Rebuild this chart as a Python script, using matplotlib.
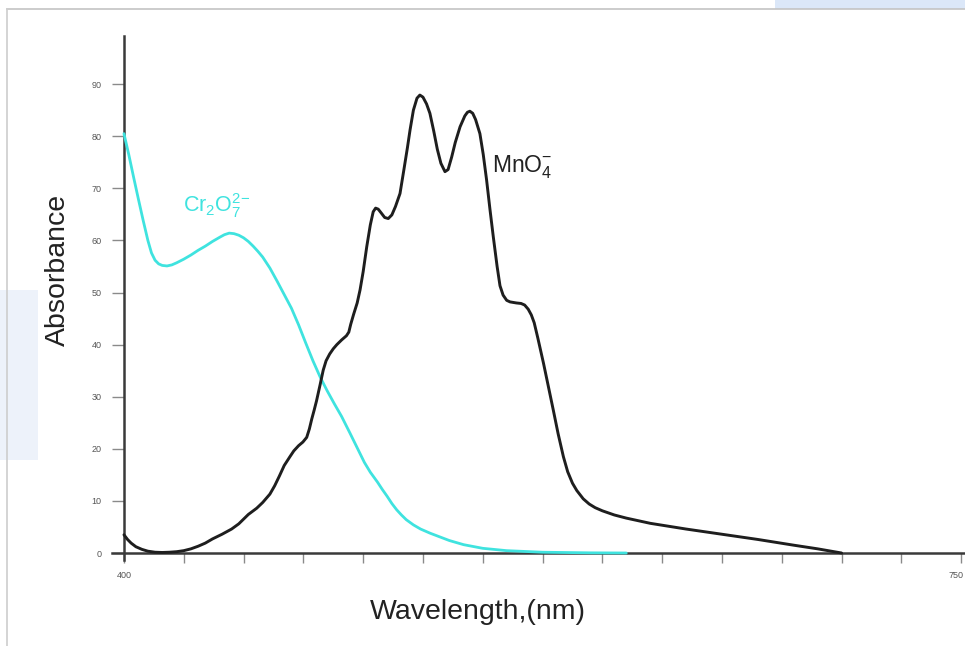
import matplotlib
matplotlib.use("Agg")
import matplotlib.pyplot as plt
from matplotlib.patches import Rectangle
from matplotlib.lines import Line2D

plt.rcParams['font.family'] = ['Liberation Sans', 'DejaVu Sans']
plt.rcParams['mathtext.fontset'] = 'custom'
plt.rcParams['mathtext.rm'] = 'Liberation Sans'
plt.rcParams['mathtext.it'] = 'Liberation Sans'

# ---- data ----
cr_wavelength = [400, 402, 404, 406, 408, 410, 411.5, 413, 414.5, 416, 418, 420, 422, 425, 428,
                 431, 434, 437, 440, 442, 444, 446, 448, 450, 452, 454, 456, 458, 461, 464,
                 467, 470, 473, 476, 479, 482, 485, 488, 491, 494.5, 497.5, 500.5, 503, 506,
                 508, 510, 512, 514, 516, 518, 521, 524, 528, 532, 536, 542, 550, 560, 575,
                 595, 610]
cr_absorb = [80.5, 76.5, 72.2, 68.0, 63.9, 60.0, 57.6, 56.2, 55.5, 55.2, 55.1, 55.3, 55.7, 56.4, 57.2,
             58.1, 58.9, 59.8, 60.6, 61.1, 61.4, 61.3, 61.0, 60.5, 59.8, 58.9, 57.9, 56.8, 54.7, 52.2,
             49.6, 47.0, 43.8, 40.3, 36.9, 33.8, 31.1, 28.6, 26.2, 23.0, 20.2, 17.4, 15.5, 13.6,
             12.2, 10.9, 9.5, 8.3, 7.3, 6.4, 5.4, 4.6, 3.8, 3.1, 2.4, 1.6, 0.9, 0.45, 0.15,
             0.03, 0.0]

mn_wavelength = [400, 401.5, 403, 405, 407.5, 410, 413, 416, 419, 422, 425, 428, 431, 434, 437,
                 441, 445, 448, 450, 452, 455.5, 458, 461, 463, 465, 467, 469.4, 471, 473,
                 474.8, 476.4, 477.5, 478.5, 479.5, 480.5, 482, 483.3, 484.5, 486, 487.5, 489,
                 491, 493, 494, 494.8, 496, 497.5, 498.7, 500, 501.5, 503, 504.2, 505.2, 506.3,
                 507.5, 509, 510.5, 512, 513.5, 515.4, 517, 518.5, 519.6, 521, 522.5, 523.7,
                 525, 526.5, 527.9, 529.5, 531, 532.5, 534.2, 535.5, 537, 538.5, 540.5, 542.5,
                 543.6, 544.6, 545.8, 547, 548.8, 550.2, 551.6, 553, 554.4, 556, 557.2, 558.5,
                 560, 561.4, 564, 566, 567.5, 569, 570.3, 571.5, 573, 575.4, 577.5, 579.5, 581.5,
                 583.7, 585.5, 587.5, 589.3, 592, 594.5, 597, 600, 605, 610, 620, 635, 650, 665,
                 680, 690, 700]
mn_absorb = [3.5, 2.6, 1.9, 1.2, 0.7, 0.35, 0.15, 0.1, 0.15, 0.25, 0.45, 0.8, 1.3, 1.9, 2.7,
             3.6, 4.6, 5.6, 6.5, 7.4, 8.6, 9.7, 11.3, 12.9, 14.8, 16.8, 18.5, 19.6, 20.6,
             21.3, 22.2, 23.8, 25.7, 27.4, 29.2, 32.3, 35.1, 36.9, 38.2, 39.2, 40.0,
             40.9, 41.7, 42.4, 43.9, 45.8, 48.0, 50.5, 54.0, 58.8, 63.0, 65.5, 66.2, 66.0,
             65.3, 64.4, 64.2, 64.9, 66.5, 69.0, 73.5, 77.8, 81.2, 85.0, 87.3, 87.9,
             87.5, 86.2, 84.4, 81.0, 77.5, 74.8, 73.2, 73.6, 76.0, 78.8, 81.8, 83.9,
             84.6, 84.8, 84.4, 83.2, 80.5, 76.5, 71.6, 66.0, 60.7, 55.0, 51.3, 49.5,
             48.5, 48.2, 48.0, 47.9, 47.6, 46.8, 45.7, 44.2, 41.3, 36.4, 31.8, 27.4, 22.9,
             18.5, 15.6, 13.4, 12.0, 10.4, 9.4, 8.7, 8.1, 7.3, 6.7, 5.7, 4.6, 3.6, 2.6,
             1.5, 0.8, 0.0]

x_ticks = [400, 425, 450, 475, 500, 525, 550, 575, 600, 625, 650, 675, 700, 725, 750]
x_ticklabels = ['400', '', '', '', '', '', '', '', '', '', '', '', '', '', '']
y_ticks = [0, 10, 20, 30, 40, 50, 60, 70, 80, 90]
y_ticklabels = ['0', '10', '20', '30', '40', '50', '60', '70', '80', '90']
x_end_label = '750'

CYAN = '#3fe3df'

fig = plt.figure(figsize=(9.65, 6.46), dpi=100)
fig.patch.set_facecolor('white')

# background decorations of the screenshot frame
fig.add_artist(Rectangle((775 / 965, 1 - 9 / 646), 190 / 965, 9 / 646, transform=fig.transFigure,
                         facecolor='#dbe7f8', edgecolor='none', zorder=0))
fig.add_artist(Rectangle((0, 1 - 460 / 646), 38 / 965, 170 / 646, transform=fig.transFigure,
                         facecolor='#edf2fa', edgecolor='none', zorder=0))
fig.add_artist(Line2D([7 / 965, 1], [1 - 9 / 646, 1 - 9 / 646], transform=fig.transFigure,
                      color='#c4c4c4', lw=1.2, zorder=1))
fig.add_artist(Line2D([7 / 965, 7 / 965], [0, 1 - 9 / 646], transform=fig.transFigure,
                      color='#cdcdcd', lw=1.2, zorder=1))

ax = fig.add_axes([112 / 965, (646 - 560.3) / 646, 853 / 965, (560.3 - 36.2) / 646])
ax.set_facecolor('none')
ax.set_xlim(395, 751.6)
ax.set_ylim(-1.4, 99.2)

ax.plot(cr_wavelength, cr_absorb, color=CYAN, lw=2.0, solid_capstyle='round',
        solid_joinstyle='round', zorder=3)
ax.plot(mn_wavelength, mn_absorb, color='#1e1e1e', lw=2.1, solid_capstyle='round',
        solid_joinstyle='round', zorder=4)

for s in ['top', 'right']:
    ax.spines[s].set_visible(False)
ax.spines['left'].set_position(('data', 400))
ax.spines['bottom'].set_position(('data', 0))
ax.spines['left'].set_color('#3a3a3a')
ax.spines['bottom'].set_color('#3a3a3a')
ax.spines['left'].set_linewidth(1.8)
ax.spines['bottom'].set_linewidth(1.8)

ax.set_xticks(x_ticks)
ax.set_xticklabels(x_ticklabels)
ax.set_yticks(y_ticks)
ax.set_yticklabels(y_ticklabels)
ax.tick_params(axis='x', direction='out', length=7, width=1.0, color='#8a8a8a',
               labelsize=6.5, labelcolor='#555555', pad=6)
ax.tick_params(axis='y', direction='out', length=9, width=1.0, color='#8a8a8a',
               labelsize=6.5, labelcolor='#555555', pad=7)
# end label of the x axis, kept inside the picture
fig.text(964 / 965, 1 - 575 / 646, x_end_label, fontsize=6.5, color='#555555',
         ha='right', va='center')

fig.text(58 / 965, 1 - 270 / 646, 'Absorbance', rotation=90, fontsize=20.5,
         color='#222222', ha='center', va='center')
fig.text(478 / 965, 1 - 612 / 646, 'Wavelength,(nm)', fontsize=20.5,
         color='#222222', ha='center', va='center')

ax.text(424.5, 65.5, r'Cr$_2$O$_7^{2\!-}$', color=CYAN, fontsize=15.5, ha='left', va='baseline')
ax.text(553.8, 73.1, r'MnO$_4^{-}$', color='#222222', fontsize=16.5, ha='left', va='baseline')

fig.savefig('out.png', dpi=100, facecolor='white')
